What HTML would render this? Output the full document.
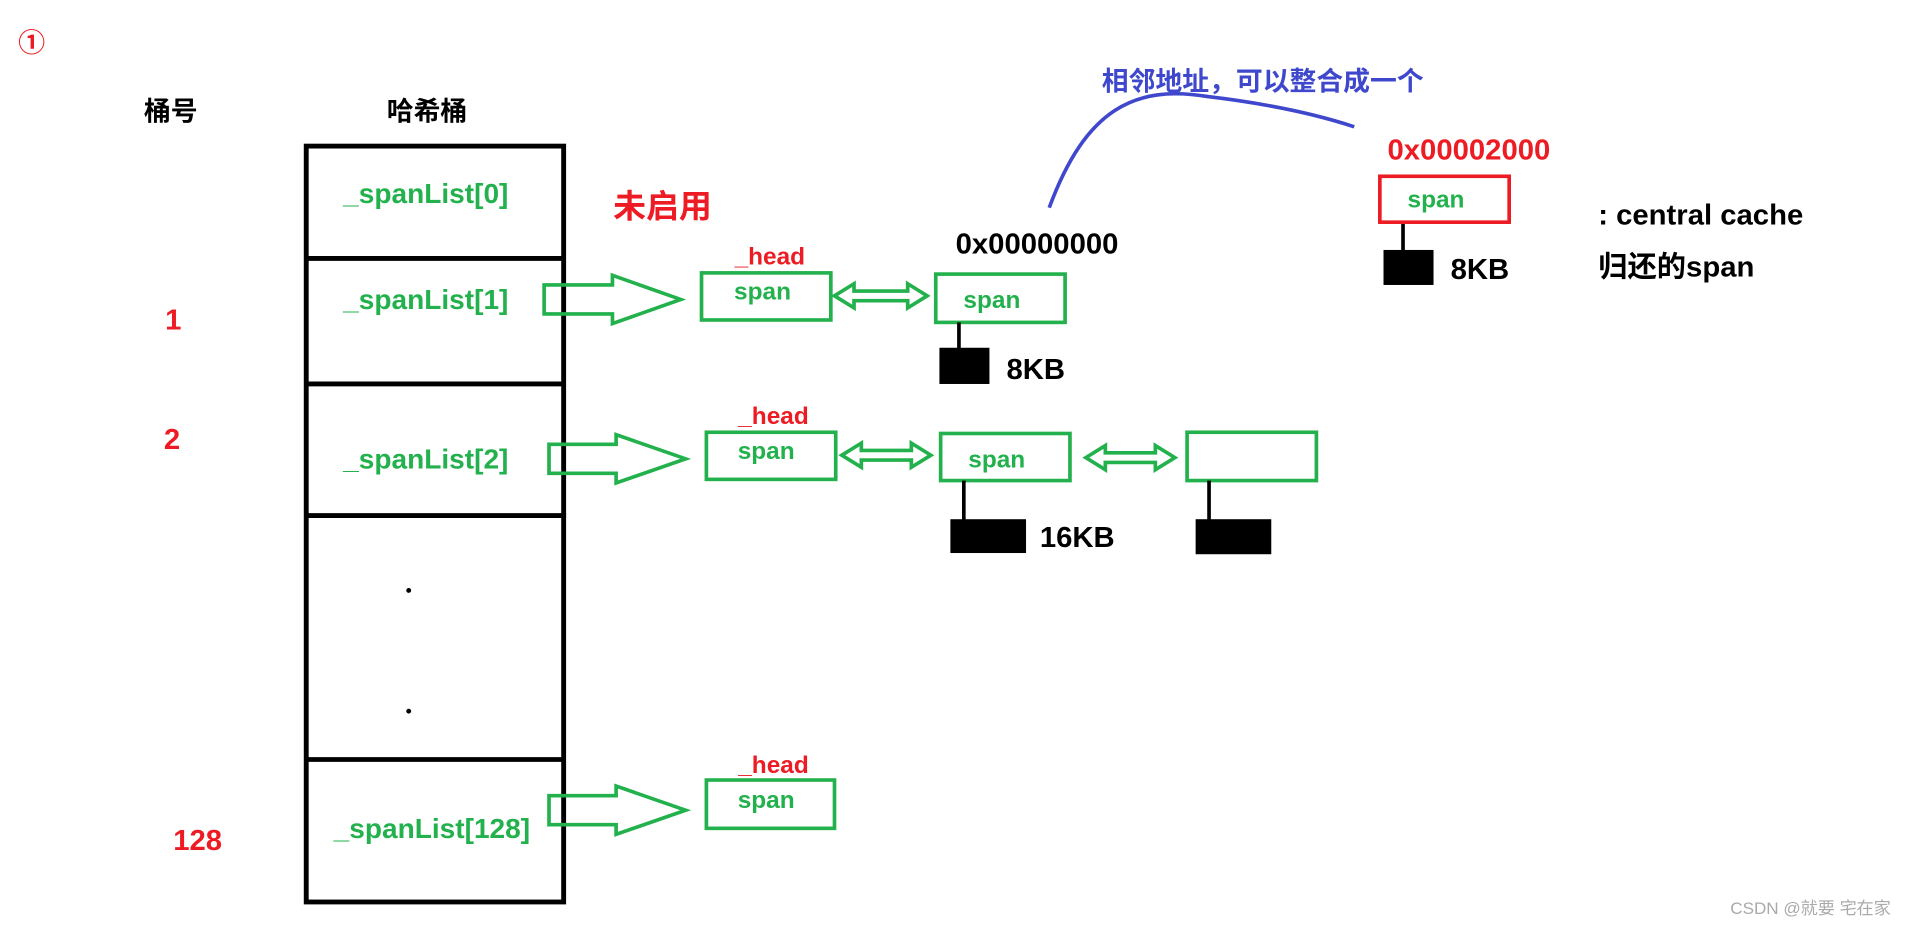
<!DOCTYPE html>
<html><head><meta charset="utf-8"><style>
html,body{margin:0;padding:0;background:#fff;overflow:hidden}
svg{display:block}
text{font-family:"Liberation Sans","Noto Sans CJK SC",sans-serif;font-weight:bold}
</style></head><body>
<svg width="1913" height="937" viewBox="0 0 1568 776" preserveAspectRatio="none" xmlns="http://www.w3.org/2000/svg">
<rect width="1568" height="776" fill="#fff"/>
<text x="26" y="43" fill="#ed1c24" font-size="22" text-anchor="middle">①</text>
<text x="140" y="100" font-size="22" text-anchor="middle">桶号</text>
<text x="350" y="100" font-size="22" text-anchor="middle">哈希桶</text>
<g stroke="#000" stroke-width="4" fill="none">
<rect x="251" y="121" width="211" height="626"/>
<line x1="251" y1="214" x2="462" y2="214"/>
<line x1="251" y1="318" x2="462" y2="318"/>
<line x1="251" y1="427" x2="464" y2="427"/>
<line x1="251" y1="629" x2="462" y2="629"/>
</g>
<circle cx="335" cy="489" r="2"/><circle cx="335" cy="589" r="2"/>
<g fill="#22b14c" font-size="23" text-anchor="middle">
<text x="349" y="168">_spanList[0]</text>
<text x="349" y="256">_spanList[1]</text>
<text x="349" y="388">_spanList[2]</text>
<text x="354" y="694">_spanList[128]</text>
</g>
<g fill="#ed1c24" font-size="24" text-anchor="middle">
<text x="142" y="273">1</text>
<text x="141" y="372">2</text>
<text x="162" y="704">128</text>
<text x="543" y="180" font-size="27">未启用</text>
</g>
<g fill="#ed1c24" font-size="20" text-anchor="middle">
<text x="631" y="219">_head</text>
<text x="634" y="351">_head</text>
<text x="634" y="640">_head</text>
</g>
<g fill="none" stroke="#22b14c" stroke-width="3">
<path d="M446,236 H502 V228 L558,248 L502,268 V260 H446 Z"/>
<path d="M450,368 H505 V360 L562,380 L505,400 V392 H450 Z"/>
<path d="M450,659 H505 V651 L562,671 L505,691 V683 H450 Z"/>
<rect x="575" y="226" width="106" height="39"/>
<rect x="767" y="227" width="106" height="40"/>
<rect x="579" y="358" width="106" height="39"/>
<rect x="771" y="359" width="106" height="39"/>
<rect x="973" y="358" width="106" height="40"/>
<rect x="579" y="646" width="105" height="40"/>
<path d="M684,245 L700,235 V241 H744 V235 L760,245 L744,255 V249 H700 V255 Z"/>
<path d="M690,377 L706,367 V373 H747 V367 L763,377 L747,387 V381 H706 V387 Z"/>
<path d="M890,379 L906,369 V375 H947 V369 L963,379 L947,389 V383 H906 V389 Z"/>
</g>
<g fill="#22b14c" font-size="20" text-anchor="middle">
<text x="625" y="248">span</text>
<text x="813" y="255">span</text>
<text x="628" y="380">span</text>
<text x="817" y="387">span</text>
<text x="628" y="669">span</text>
<text x="1177" y="172">span</text>
</g>
<text x="850" y="210" font-size="24" text-anchor="middle">0x00000000</text>
<g stroke="#000" stroke-width="3"><line x1="786" y1="267" x2="786" y2="289"/><line x1="790" y1="398" x2="790" y2="431"/><line x1="991" y1="398" x2="991" y2="431"/><line x1="1150" y1="184" x2="1150" y2="208"/></g>
<rect x="770" y="288" width="41" height="30"/>
<rect x="779" y="430" width="62" height="28"/>
<rect x="980" y="430" width="62" height="29"/>
<rect x="1134" y="207" width="41" height="29"/>
<g font-size="24" text-anchor="middle">
<text x="849" y="314">8KB</text>
<text x="883" y="453">16KB</text>
<text x="1213" y="231">8KB</text>
</g>
<text x="1204" y="132" fill="#ed1c24" font-size="24" text-anchor="middle">0x00002000</text>
<rect x="1131" y="146" width="106" height="38" fill="none" stroke="#ed1c24" stroke-width="3"/>
<text x="1310" y="186" font-size="24">: central cache</text>
<text x="1310" y="229" font-size="24">归还的span</text>
<path d="M860,172 C890,90 930,70 990,80 C1040,86 1080,95 1110,105" fill="none" stroke="#3f48cc" stroke-width="3"/>
<text x="1035" y="75" fill="#3f48cc" font-size="22" text-anchor="middle">相邻地址，可以整合成一个</text>
<text x="1484" y="757" fill="#aaa" font-size="14" font-weight="normal" text-anchor="middle" style="font-weight:normal">CSDN @就要 宅在家</text>
</svg>
</body></html>
